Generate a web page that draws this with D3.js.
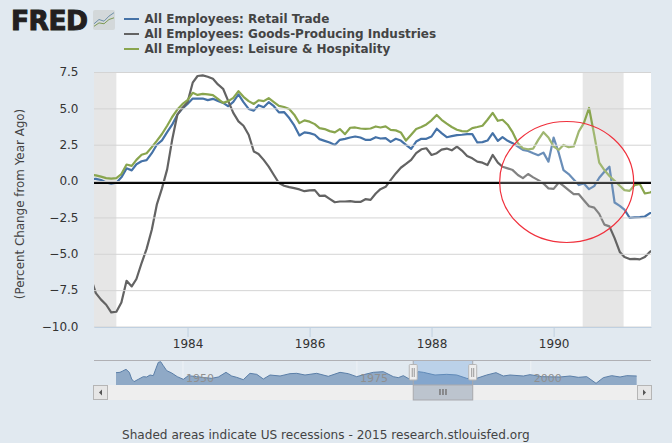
<!DOCTYPE html>
<html><head><meta charset="utf-8">
<script src="https://cdn.jsdelivr.net/npm/d3@7"></script>
<style>
html,body{margin:0;padding:0;background:#e1e9f0;overflow:hidden}
svg{display:block}
text{font-family:"DejaVu Sans",sans-serif}
</style></head><body>
<svg id="c" width="672" height="443"></svg>
<script>
const seriesNames=["All Employees: Retail Trade","All Employees: Goods-Producing Industries","All Employees: Leisure & Hospitality"];
const seriesColors=["#4572a7","#636363","#89a54e"];
const startMonth="1982-06-01";
const retail=[.17,.18,.11,-.06,-.15,-.08,.29,.91,.77,1.19,1.40,1.47,1.95,2.53,2.83,3.40,3.91,4.60,5.02,5.34,5.71,5.71,5.71,5.60,5.69,5.55,5.41,5.18,5.48,5.99,5.46,5.00,4.88,5.25,5.11,5.46,5.18,4.76,4.78,4.37,3.86,3.17,3.38,3.33,3.22,2.92,2.80,2.69,2.52,2.87,2.94,3.03,3.10,3.03,2.87,2.87,3.05,2.96,2.99,2.73,2.94,2.82,2.52,2.25,2.75,2.94,2.94,3.10,3.63,3.33,3.05,3.12,3.19,3.22,3.26,3.26,2.69,2.71,2.82,3.33,2.80,3.05,2.80,2.64,2.41,2.18,2.11,1.95,1.81,1.99,1.37,3.03,1.95,.79,.52,.15,-.24,-.13,-.52,-.31,.26,.68,1.02,-1.44,-1.67,-1.93,-2.49,-2.46,-2.44,-2.40,-2.17,-2.12];
const goods=[-6.63,-7.67,-8.12,-8.47,-9.00,-8.95,-8.31,-6.82,-7.21,-6.70,-5.60,-4.63,-3.31,-1.59,-.47,.84,2.87,4.60,5.06,5.46,6.80,7.26,7.30,7.21,7.07,6.68,6.38,5.53,4.72,4.14,3.84,3.22,2.07,1.90,1.49,1.03,.45,-.10,-.29,-.38,-.45,-.54,-.66,-.61,-.59,-.98,-.96,-1.19,-1.42,-1.37,-1.37,-1.35,-1.40,-1.40,-1.21,-1.26,-.82,-.52,-.36,.10,.56,.95,1.21,1.49,1.95,2.22,2.29,1.83,1.95,2.20,2.27,2.15,2.41,2.13,1.76,1.60,1.37,1.30,1.14,1.83,1.30,1.02,.91,.79,.45,.24,.52,.29,.10,-.13,-.47,-.50,-.06,-.29,-.59,-.87,-.87,-1.28,-1.70,-1.79,-2.22,-2.96,-3.08,-3.89,-4.84,-5.19,-5.33,-5.31,-5.35,-5.19,-4.82,-4.64];
const leisure=[.45,.43,.34,.24,.20,.24,.52,1.17,1.08,1.49,1.84,1.95,2.37,2.80,3.27,3.84,4.44,4.95,5.32,5.60,6.10,5.96,6.03,5.99,5.94,5.69,5.41,5.53,5.76,6.22,5.83,5.53,5.34,5.59,5.53,5.73,5.46,5.20,5.13,4.99,4.60,4.02,4.21,4.12,3.95,3.68,3.61,3.47,3.38,3.61,3.26,3.70,3.72,3.65,3.63,3.65,3.79,3.72,3.79,3.56,3.52,3.38,2.82,3.22,3.61,3.75,3.93,4.21,4.58,4.25,3.98,3.75,3.56,3.47,3.45,3.68,3.75,3.84,4.25,4.72,4.18,4.25,3.91,3.38,2.64,2.29,2.22,2.27,2.87,3.40,3.03,2.41,2.18,2.52,2.36,2.41,3.45,4.02,5.06,3.22,1.30,.79,.38,.06,-.29,-.59,-.64,-.24,-.17,-.82,-.75,-.59];
const yTicks=[-10,-7.5,-5,-2.5,0,2.5,5,7.5];
const xTickYears=[1984,1986,1988,1990];
const recessions=[["1982-06-01","1982-11-01"],["1990-06-24","1991-02-24"]];
const navYears=[1940.37,1940.94,1941.33,1941.81,1942.28,1942.62,1942.96,1943.57,1944.29,1944.78,1945.26,1945.73,1946.12,1946.45,1946.79,1947.17,1947.66,1948.38,1949.18,1950.05,1950.77,1951.97,1953.16,1954.12,1955.08,1956.18,1957,1957.72,1958.67,1959.63,1960.6,1961.55,1962.51,1963.95,1965.38,1966.35,1967.54,1969.22,1970.89,1972.57,1973.76,1974.97,1976.16,1977.36,1978.8,1980.23,1980.95,1981.67,1982.53,1983.83,1984.55,1986.23,1987.91,1989.35,1990.78,1991.65,1992.22,1993.66,1995,1996.05,1997.01,1998.93,1999.89,2001.57,2004.2,2005.64,2006.83,2008.04,2009.38,2010.43,2011.63,2012.83,2013.79,2015.22];
const navValues=[12.33,12.67,14,15.67,12.67,6,3.33,5.67,8.33,8,10,9.33,16.67,22.67,23.33,19.33,14.33,12,8.33,5.67,9.33,8.33,7.33,6.67,8,12.67,9,7.67,5.33,11.67,10.67,6,10,9,11.33,11.67,10,11.67,8.67,12.67,11.33,8.33,10.67,12.67,13.33,8.33,7.33,9.33,6,13.33,12.67,10,10.67,10,6.67,5.67,6.67,10,12.33,9,10,9,10.33,8.33,8,9,7.67,8.33,1.67,7.33,9.33,8,9.33,9];
const navTicks=[1950,1975,2000];
const navSelection=[1983.1,1991.65];
const footerText="Shaded areas indicate US recessions - 2015 research.stlouisfed.org";
const yTitle="(Percent Change from Year Ago)";

const svg=d3.select("#c");
const L=94,R=651,T=72,B=327;
const parse=d3.utcParse("%Y-%m-%d");
const months=retail.map((_,i)=>d3.utcMonth.offset(parse(startMonth),i));
const x=d3.scaleUtc().domain([new Date(Date.UTC(1982,5,20)),new Date(Date.UTC(1991,7,7))]).range([L,R]);
const y=d3.scaleLinear().domain([-10,7.5]).range([327,72.5]);

svg.append("defs").append("clipPath").attr("id","plot").append("rect").attr("x",L).attr("y",T).attr("width",R-L).attr("height",B-T);
svg.append("rect").attr("x",L).attr("y",T).attr("width",R-L).attr("height",B-T).attr("fill","#fff");
const plot=svg.append("g").attr("clip-path","url(#plot)");
plot.selectAll("rect.rec").data(recessions).join("rect").attr("class","rec")
  .attr("x",d=>x(parse(d[0]))).attr("width",d=>x(parse(d[1]))-x(parse(d[0]))).attr("y",T).attr("height",B-T).attr("fill","#e6e6e6");

const yAxis=d3.axisLeft(y).tickValues(yTicks).tickFormat(d3.format(".1f")).tickSize(-(R-L)).tickPadding(15.5).offset(0);
const gy=svg.append("g").attr("transform",`translate(${L},0)`).call(yAxis);
gy.select(".domain").remove();
gy.selectAll("line").attr("stroke","#d4d4d4").attr("stroke-width",1);
gy.selectAll("text").attr("font-size",12).attr("fill","#333").attr("font-family","DejaVu Sans");

const xAxis=d3.axisBottom(x).tickValues(xTickYears.map(v=>new Date(Date.UTC(v,0,1)))).tickFormat(d3.utcFormat("%Y")).tickSize(10).tickPadding(2).tickSizeOuter(0);
const gx=svg.append("g").attr("transform",`translate(0,${B})`).call(xAxis);
gx.select(".domain").attr("stroke","#c0d0e0");
gx.selectAll("line").attr("stroke","#c0d0e0");
gx.selectAll("text").attr("font-size",12).attr("fill","#333");

const line=d3.line().x((d,i)=>x(months[i])).y(d=>y(d));
[retail,goods,leisure].forEach((s,i)=>{
  plot.append("path").attr("d",line(s)).attr("fill","none").attr("stroke",seriesColors[i]).attr("stroke-width",2.2).attr("stroke-linejoin","round");
});
plot.append("line").attr("x1",L).attr("x2",R).attr("y1",Math.round(y(0))+.5).attr("y2",Math.round(y(0))+.5).attr("stroke","#000").attr("stroke-width",3);

svg.append("text").attr("transform","translate(24,204) rotate(-90)").attr("text-anchor","middle").attr("font-size",11.9).attr("fill","#444").text(yTitle);

// legend
seriesNames.forEach((n,i)=>{
  const ly=19+i*15;
  svg.append("line").attr("x1",124).attr("x2",139).attr("y1",ly).attr("y2",ly).attr("stroke",seriesColors[i]).attr("stroke-width",2);
  svg.append("text").attr("x",144.5).attr("y",ly+4).attr("font-size",12).attr("font-weight","bold").attr("fill","#444").text(n);
});
// logo
svg.append("text").attr("x",11).attr("y",29.5).attr("font-family","Liberation Sans").attr("font-size",26.5).attr("font-weight","bold").attr("textLength",77).attr("lengthAdjust","spacing").attr("fill","#231f20").attr("stroke","#231f20").attr("stroke-width",1).text("FRED");
svg.append("rect").attr("x",93).attr("y",10).attr("width",22).attr("height",20).attr("rx",2).attr("fill","#d3d8da");
const logoX=d3.scaleLinear().domain([0,4]).range([94,114]), logoY=d3.scaleLinear().domain([0,10]).range([28,11]);
[[[0,1],[1,3],[2,2.5],[3,5],[4,6]],[[0,2.5],[1,5],[2,4],[3,7],[4,9]]].forEach((s,i)=>{
  svg.append("path").attr("d",d3.line().x(d=>logoX(d[0])).y(d=>logoY(d[1]))(s)).attr("fill","none").attr("stroke",["#7d9a55","#6c8fa8"][i]).attr("stroke-width",1);
});

// red annotation
svg.append("ellipse").attr("cx",x(new Date(Date.UTC(1990,2,20)))).attr("cy",182).attr("rx",67).attr("ry",60.5).attr("fill","rgba(255,255,255,.2)").attr("stroke","#f0303c").attr("stroke-width",1.2);

// navigator
const nx=d3.scaleLinear().domain([1950,2000]).range([183,530.8]);
const ny=d3.scaleLinear().domain([0,25]).range([385,360]);
const nav=svg.append("g");
nav.selectAll("line.g").data(navTicks).join("line").attr("class","g").attr("x1",d=>nx(d)).attr("x2",d=>nx(d)).attr("y1",361).attr("y2",385).attr("stroke","#eef2f6");
const navPts=navYears.map((v,i)=>[v,navValues[i]]);
nav.append("path").attr("d",d3.area().x(d=>nx(d[0])).y0(385).y1(d=>ny(d[1]))(navPts)).attr("fill","#8fa9c6").attr("stroke","none");
nav.append("path").attr("d",d3.line().x(d=>nx(d[0])).y(d=>ny(d[1]))(navPts)).attr("fill","none").attr("stroke","#5b7fa8").attr("stroke-width",1);
nav.selectAll("text.t").data(navTicks).join("text").attr("class","t").attr("x",d=>nx(d)+17).attr("y",381.5).attr("text-anchor","middle").attr("font-family","Liberation Sans").attr("font-size",11).attr("fill","#8f8f8f").text(d=>d);
const sx0=nx(navSelection[0]),sx1=nx(navSelection[1]);
nav.append("rect").attr("x",sx0).attr("y",361).attr("width",sx1-sx0).attr("height",24).attr("fill","#6ea0dc").attr("fill-opacity",.33);
nav.append("line").attr("x1",94).attr("x2",651).attr("y1",360.5).attr("y2",360.5).attr("stroke","#b0b0b4");
nav.append("rect").attr("x",94).attr("y",385).attr("width",557).attr("height",15).attr("fill","#eeeeee");
nav.append("rect").attr("x",sx0).attr("y",385).attr("width",sx1-sx0).attr("height",15).attr("fill","#bcc4ce").attr("stroke","#a9a9ad");
[-3,0,3].forEach(o=>nav.append("line").attr("x1",(sx0+sx1)/2+o).attr("x2",(sx0+sx1)/2+o).attr("y1",389).attr("y2",395).attr("stroke","#777").attr("stroke-width",1.5));
[sx0,sx1].forEach(h=>{
  nav.append("line").attr("x1",h).attr("x2",h).attr("y1",361).attr("y2",385).attr("stroke","#a9a9ad");
  nav.append("rect").attr("x",h-4).attr("y",364.5).attr("width",8).attr("height",15.5).attr("rx",1).attr("fill","#eee").attr("stroke","#b5b5b5");
  [-1,1].forEach(o=>nav.append("line").attr("x1",h+o).attr("x2",h+o).attr("y1",368).attr("y2",377).attr("stroke","#999"));
});
[[93,1],[637,-1]].forEach(([bx,d])=>{
  nav.append("rect").attr("x",bx+.5).attr("y",385.5).attr("width",14).attr("height",14).attr("fill","#e6e6e6").attr("stroke","#b5b5b5");
  const c=bx+7.5;
  nav.append("path").attr("d",d3.line()([[c+d*1.5,389.5],[c+d*1.5,395.5],[c-d*1.5,392.5]])+"Z").attr("fill","#555");
});
svg.append("text").attr("x",122).attr("y",439).attr("font-size",12.1).attr("fill","#444").text(footerText);
</script>
</body></html>
